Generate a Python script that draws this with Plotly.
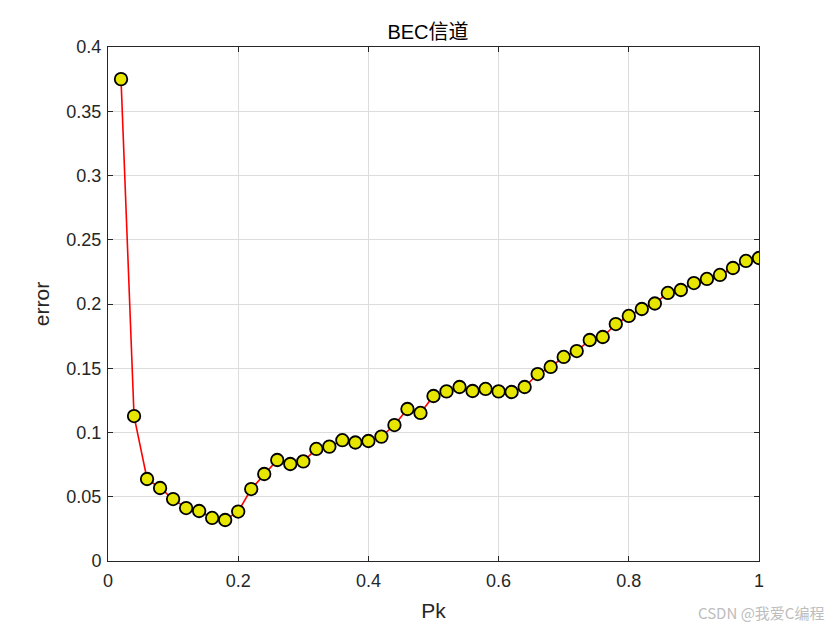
import plotly.graph_objects as go

# Pk values and measured error
pk = [round(0.02 * i, 2) for i in range(1, 51)]
err = [0.375, 0.1128, 0.0638, 0.0568, 0.0482, 0.0412, 0.0389, 0.0335, 0.0319, 0.0385,
       0.0560, 0.0677, 0.0786, 0.0755, 0.0775, 0.0872, 0.0890, 0.0940, 0.0922, 0.0934,
       0.0968, 0.1058, 0.1183, 0.1152, 0.1284, 0.1320, 0.1354, 0.1323, 0.1339, 0.1320,
       0.1315, 0.1354, 0.1455, 0.1510, 0.1588, 0.1634, 0.1720, 0.1743, 0.1844, 0.1907,
       0.1961, 0.2004, 0.2086, 0.2109, 0.2163, 0.2195, 0.2226, 0.2280, 0.2335, 0.2358]

x_ticks = [0, 0.2, 0.4, 0.6, 0.8, 1]
x_ticktext = ['0', '0.2', '0.4', '0.6', '0.8', '1']
y_ticks = [0, 0.05, 0.1, 0.15, 0.2, 0.25, 0.3, 0.35, 0.4]
y_ticktext = ['0', '0.05', '0.1', '0.15', '0.2', '0.25', '0.3', '0.35', '0.4']

font_family = 'Liberation Sans, Arial, Noto Sans CJK SC, sans-serif'

fig = go.Figure()
fig.add_trace(go.Scatter(
    x=pk, y=err,
    mode='lines+markers',
    line=dict(color='#ff0000', width=1.6),
    marker=dict(size=12.5, color='#e6e600', line=dict(color='black', width=1.8)),
    showlegend=False,
))

axis_common = dict(
    showgrid=True, gridcolor='#dcdcdc', gridwidth=1,
    zeroline=False, showline=True, linecolor='#262626', linewidth=1,
    mirror='ticks', ticks='inside', ticklen=5, tickcolor='#262626',
    tickfont=dict(size=18, color='#262626', family=font_family),
)

fig.update_layout(
    width=840, height=630,
    paper_bgcolor='white', plot_bgcolor='white',
    margin=dict(l=100, r=89, t=39, b=77),
    title=dict(text='BEC信道', x=0.5, xanchor='center', y=0.962, yanchor='middle',
               font=dict(size=20, color='black', family=font_family)),
    xaxis=dict(range=[0, 1], tickvals=x_ticks, ticktext=x_ticktext, ticklabelstandoff=3,
               title=dict(text='Pk', font=dict(size=21, color='#262626', family=font_family), standoff=13),
               **axis_common),
    yaxis=dict(range=[0, 0.4], tickvals=y_ticks, ticktext=y_ticktext, ticklabelstandoff=2,
               title=dict(text='error', font=dict(size=21, color='#262626', family=font_family), standoff=11),
               **axis_common),
)

fig.add_annotation(
    text='CSDN @我爱C编程', xref='paper', yref='paper', x=1.103, y=-0.101,
    xanchor='right', yanchor='middle', showarrow=False,
    font=dict(size=15, color='#bdbdbd', family='Noto Sans CJK SC, sans-serif'),
)

fig.write_html("out.html")
